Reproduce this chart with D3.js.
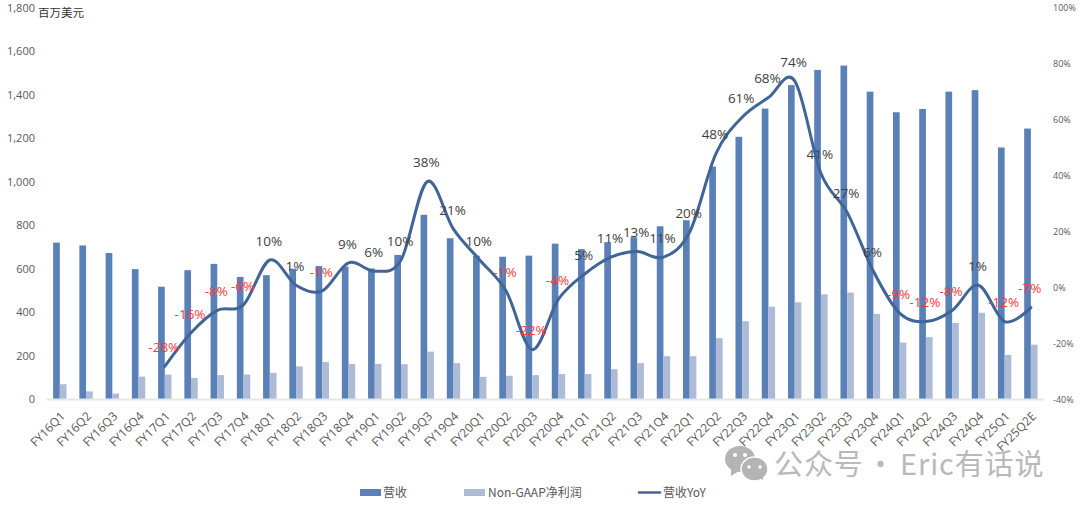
<!DOCTYPE html>
<html lang="zh">
<head>
<meta charset="utf-8">
<title>营收与 Non-GAAP 净利润</title>
<script src="https://cdn.jsdelivr.net/npm/d3@7"></script>
<style>
  html, body { margin: 0; padding: 0; background: #fff; }
  svg { display: block; font-family: "Open Sans", "Noto Sans CJK SC", sans-serif; }
</style>
</head>
<body>
<svg id="chart" width="1080" height="508"></svg>
<script>
const quarters = ["FY16Q1","FY16Q2","FY16Q3","FY16Q4","FY17Q1","FY17Q2","FY17Q3","FY17Q4","FY18Q1","FY18Q2","FY18Q3","FY18Q4","FY19Q1","FY19Q2","FY19Q3","FY19Q4","FY20Q1","FY20Q2","FY20Q3","FY20Q4","FY21Q1","FY21Q2","FY21Q3","FY21Q4","FY22Q1","FY22Q2","FY22Q3","FY22Q4","FY23Q1","FY23Q2","FY23Q3","FY23Q4","FY24Q1","FY24Q2","FY24Q3","FY24Q4","FY25Q1","FY25Q2E"];
const revenue = [720,707,672,598,517,593,622,562,570,600,612,610,601,663,848,740,660,655,660,715,690,722,745,795,823,1070,1207,1337,1445,1515,1535,1415,1320,1335,1415,1422,1158,1245];
const netProfit = [68,35,25,103,112,97,110,113,120,150,170,162,162,160,218,165,102,107,110,115,115,137,165,197,197,280,358,425,445,482,490,392,260,285,350,397,203,250];
// Growth only exists once a year-ago quarter is available, so the first four are null.
const revenueYoY = [null,null,null,null,-28,-16,-8,-6,10,1,-1,9,6,10,38,21,10,-1,-22,-4,5,11,13,11,20,48,61,68,74,41,27,6,-9,-12,-8,1,-12,-7];
const leftTicks = [0,200,400,600,800,1000,1200,1400,1600,1800];
const rightTicks = [-40,-20,0,20,40,60,80,100];
const legendNames = ["营收","Non-GAAP净利润","营收YoY"];
const unitLabel = "百万美元";

const barBlue = "#5a80b8", barLight = "#adbbd7", lineBlue = "#406596";
const tickGrey = "#595959", labelGrey = "#404040", labelRed = "#f73a3a";
const cjk = '"Noto Sans CJK SC", sans-serif';

const svg = d3.select("#chart");

const x = d3.scaleBand().domain(quarters).range([46.7, 1044]).paddingInner(0.49).paddingOuter(0.245);
const yLeft = d3.scaleLinear().domain([0, 1800]).range([399, 8]);
const yRight = d3.scaleLinear().domain([-40, 100]).range([400, 8]);
const mid = q => x(q) + x.bandwidth() / 2;

// Paired columns per quarter
svg.append("g").selectAll("rect").data(quarters).join("rect")
  .attr("x", d => x(d)).attr("width", x.bandwidth() / 2)
  .attr("y", (d, i) => yLeft(revenue[i]))
  .attr("height", (d, i) => yLeft(0) - yLeft(revenue[i]))
  .attr("fill", barBlue);
svg.append("g").selectAll("rect").data(quarters).join("rect")
  .attr("x", d => mid(d)).attr("width", x.bandwidth() / 2)
  .attr("y", (d, i) => yLeft(netProfit[i]))
  .attr("height", (d, i) => yLeft(0) - yLeft(netProfit[i]))
  .attr("fill", barLight);

// Baseline
svg.append("line").attr("x1", 46.7).attr("x2", 1044)
  .attr("y1", yLeft(0) + 0.5).attr("y2", yLeft(0) + 0.5)
  .attr("stroke", "#e6e6e6").attr("stroke-width", 2);

// Axes
const leftAxis = svg.append("g").attr("transform", "translate(35,0)")
  .call(d3.axisLeft(yLeft).tickValues(leftTicks).tickSize(0).tickPadding(0).tickFormat(d3.format(",")));
leftAxis.select(".domain").remove();
leftAxis.selectAll("text").attr("fill", tickGrey).attr("font-size", 11).attr("font-family", '"Open Sans", sans-serif');

const rightAxis = svg.append("g").attr("transform", "translate(1053,0)")
  .call(d3.axisRight(yRight).tickValues(rightTicks).tickSize(0).tickPadding(0).tickFormat(d => d + "%"));
rightAxis.select(".domain").remove();
rightAxis.selectAll("text").attr("fill", tickGrey).attr("font-size", 9).attr("font-family", '"Open Sans", sans-serif');

svg.append("g").selectAll("text").data(quarters).join("text")
  .attr("transform", d => `translate(${mid(d) + 3},414) rotate(-45)`)
  .attr("text-anchor", "end").attr("dy", "0.35em")
  .attr("font-size", 12).attr("fill", tickGrey).text(d => d);

svg.append("text").attr("x", 38).attr("y", 17)
  .attr("font-family", cjk).attr("font-size", 11.5).attr("fill", "#333").text(unitLabel);

// Smoothed growth line, starting at the first quarter with a value
const yoyPoints = quarters.map((q, i) => ({ q, v: revenueYoY[i] })).filter(d => d.v !== null);
const yoyLine = d3.line().x(d => mid(d.q)).y(d => yRight(d.v)).curve(d3.curveCatmullRom.alpha(0));
svg.append("path").datum(yoyPoints).attr("d", yoyLine)
  .attr("fill", "none").attr("stroke", lineBlue).attr("stroke-width", 3).attr("stroke-linecap", "round");

// Growth labels: red when negative
svg.append("g").selectAll("text").data(yoyPoints).join("text")
  .attr("x", d => mid(d.q) - 1).attr("y", d => yRight(d.v) - 19)
  .attr("dy", "0.35em").attr("text-anchor", "middle").attr("font-size", 13.5)
  .attr("fill", d => d.v < 0 ? labelRed : labelGrey).text(d => d.v + "%");

// Legend
const legend = svg.append("g").attr("font-family", cjk).attr("font-size", 12).attr("fill", tickGrey);
legend.append("rect").attr("x", 360).attr("y", 489).attr("width", 21).attr("height", 7).attr("fill", barBlue);
legend.append("text").attr("x", 383).attr("y", 497).text(legendNames[0]);
legend.append("rect").attr("x", 464).attr("y", 489).attr("width", 21).attr("height", 7).attr("fill", barLight);
legend.append("text").attr("x", 488).attr("y", 497).text(legendNames[1]);
legend.append("line").attr("x1", 639).attr("x2", 660).attr("y1", 492.5).attr("y2", 492.5)
  .attr("stroke", lineBlue).attr("stroke-width", 2.5).attr("stroke-linecap", "round");
legend.append("text").attr("x", 663).attr("y", 497).text(legendNames[2]);

// Account badge in the lower right corner
const badge = svg.append("g").attr("fill", "#b4b4b4");
badge.append("ellipse").attr("cx", 740).attr("cy", 459).attr("rx", 15).attr("ry", 13);
badge.append("path").attr("d", "M731 468 L731 476 L739 471 Z");
badge.append("ellipse").attr("cx", 754.5).attr("cy", 469).attr("rx", 13.5).attr("ry", 12).attr("stroke", "#fff").attr("stroke-width", 1.5);
badge.append("path").attr("d", "M760 478 L763 480 L763 475 Z");
[[735, 455, 2], [745, 455, 2], [749, 467, 1.7], [760, 467, 1.7]].forEach(([cx, cy, r]) =>
  badge.append("circle").attr("cx", cx).attr("cy", cy).attr("r", r).attr("fill", "#fff"));
const badgeText = svg.append("g").attr("font-family", cjk).attr("font-size", 29)
  .attr("fill", "#b9b9b9").attr("letter-spacing", 0.9);
[["公众号", 774], ["·", 866], ["Eric有话说", 900]].forEach(([t, px]) =>
  badgeText.append("text").attr("x", px).attr("y", 475).text(t));
</script>
</body>
</html>
